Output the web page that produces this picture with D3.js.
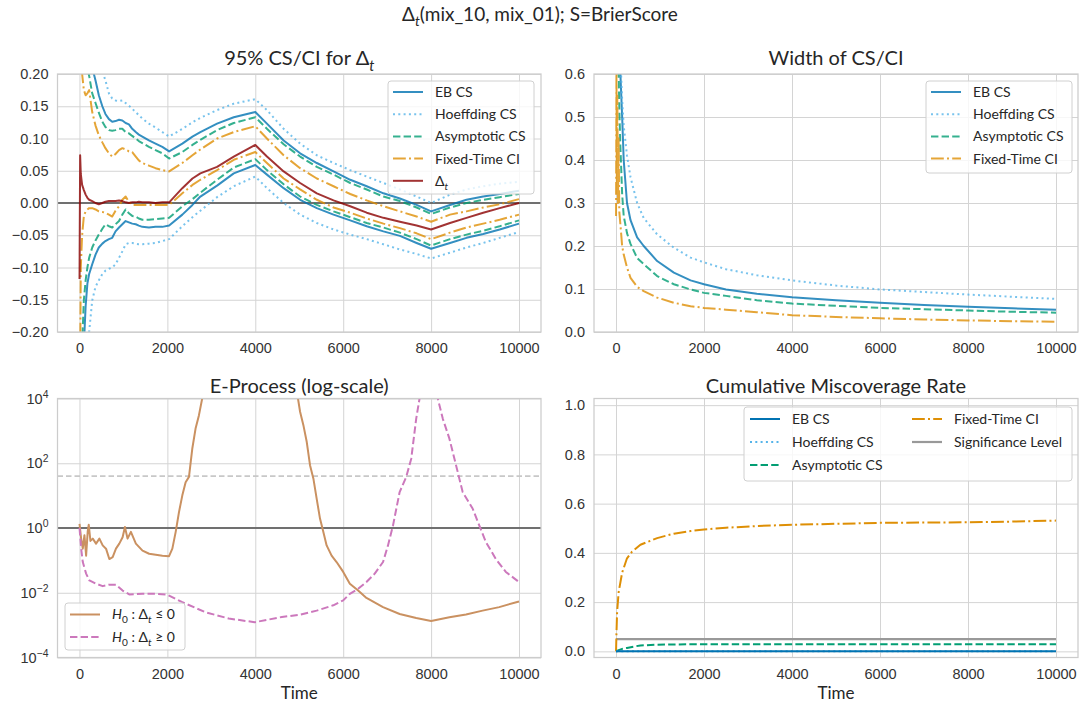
<!DOCTYPE html>
<html>
<head>
<meta charset="utf-8">
<script src="https://cdn.jsdelivr.net/npm/d3@7/dist/d3.min.js"></script>
<style>
html,body{margin:0;padding:0;background:#fff;}
svg{display:block;font-family:Lato,"Open Sans","DejaVu Sans",sans-serif;}
.grid .tick line{stroke:#d4d4d4;stroke-width:1;}
.grid .tick text{fill:#333;font-size:14.5px;}
.grid .domain{display:none;}
</style>
</head>
<body>
<svg id="chart" width="1081" height="707"></svg>
<script>
// ---------------- DATA ----------------
const xTickValues = [0, 2000, 4000, 6000, 8000, 10000];
const csYTicks = [-0.20, -0.15, -0.10, -0.05, 0.00, 0.05, 0.10, 0.15, 0.20];
const widthYTicks = [0.0, 0.1, 0.2, 0.3, 0.4, 0.5, 0.6];
const eprocYTicks = [1e-4, 1e-2, 1e0, 1e2, 1e4];
const missYTicks = [0.0, 0.2, 0.4, 0.6, 0.8, 1.0];

// Panel 1: 95% CS/CI for Delta_t
const timeCS = [1, 15, 30, 60, 100, 140, 180, 220, 290, 365, 440, 520, 590, 670, 745, 820, 900, 975, 1050, 1125, 1200, 1280, 1350, 1430, 1580, 1730, 1885, 2040, 2340, 2570, 2750, 3130, 3510, 4000, 4265, 4645, 5020, 5400, 5780, 6160, 6535, 6915, 7290, 7670, 8000, 8430, 8805, 9185, 9560, 10000];
const deltaT = [-0.118, 0.074, 0.045, 0.028, 0.02, 0.013, 0.008, 0.005, 0.003, 0.0, -0.002, 0.0, 0.002, 0.003, 0.003, 0.003, 0.004, 0.003, 0.001, 0.0, 0.001, 0.001, 0.002, 0.001, 0.001, 0.0, 0.001, 0.001, 0.023, 0.038, 0.046, 0.056, 0.072, 0.090, 0.072, 0.049, 0.031, 0.015, 0.004, -0.005, -0.015, -0.023, -0.029, -0.035, -0.041, -0.031, -0.023, -0.015, -0.008, 0.0];
const ebUpper = [0.6, 0.5, 0.45, 0.38, 0.32, 0.28, 0.25, 0.23, 0.21, 0.19, 0.167, 0.15, 0.138, 0.13, 0.126, 0.127, 0.129, 0.128, 0.124, 0.122, 0.115, 0.11, 0.106, 0.103, 0.097, 0.092, 0.087, 0.08, 0.092, 0.103, 0.110, 0.123, 0.133, 0.141, 0.123, 0.097, 0.077, 0.062, 0.049, 0.036, 0.026, 0.015, 0.007, -0.003, -0.013, -0.003, 0.005, 0.010, 0.014, 0.019];
const ebLower = [-0.6, -0.5, -0.4, -0.32, -0.22, -0.16, -0.125, -0.11, -0.095, -0.08, -0.069, -0.063, -0.059, -0.056, -0.054, -0.044, -0.038, -0.033, -0.028, -0.03, -0.032, -0.033, -0.035, -0.037, -0.038, -0.037, -0.037, -0.035, -0.018, -0.003, 0.010, 0.027, 0.046, 0.059, 0.044, 0.023, 0.005, -0.008, -0.018, -0.027, -0.036, -0.044, -0.051, -0.062, -0.071, -0.062, -0.054, -0.048, -0.041, -0.032];
const hoefUpper = [0.8, 0.7, 0.6, 0.5, 0.42, 0.36, 0.32, 0.29, 0.26, 0.24, 0.22, 0.205, 0.19, 0.17, 0.162, 0.159, 0.158, 0.159, 0.155, 0.151, 0.146, 0.141, 0.136, 0.131, 0.123, 0.117, 0.110, 0.103, 0.115, 0.125, 0.132, 0.144, 0.154, 0.161, 0.144, 0.115, 0.092, 0.074, 0.062, 0.051, 0.041, 0.031, 0.021, 0.010, 0.0, 0.013, 0.021, 0.026, 0.030, 0.033];
const hoefLower = [-0.8, -0.7, -0.6, -0.45, -0.35, -0.29, -0.24, -0.2, -0.151, -0.13, -0.12, -0.11, -0.105, -0.102, -0.1, -0.095, -0.085, -0.075, -0.064, -0.062, -0.062, -0.063, -0.064, -0.064, -0.063, -0.062, -0.059, -0.056, -0.036, -0.022, -0.012, 0.009, 0.026, 0.041, 0.023, 0.0, -0.018, -0.031, -0.041, -0.049, -0.056, -0.064, -0.072, -0.079, -0.086, -0.077, -0.069, -0.062, -0.054, -0.045];
const asymUpper = [0.5, 0.42, 0.36, 0.3, 0.26, 0.23, 0.21, 0.197, 0.17, 0.155, 0.14, 0.126, 0.118, 0.113, 0.112, 0.113, 0.115, 0.115, 0.11, 0.108, 0.104, 0.1, 0.096, 0.093, 0.087, 0.082, 0.077, 0.069, 0.079, 0.09, 0.098, 0.113, 0.124, 0.133, 0.115, 0.091, 0.072, 0.056, 0.044, 0.031, 0.021, 0.010, 0.003, -0.007, -0.017, -0.007, 0.0, 0.005, 0.009, 0.014];
const asymLower = [-0.5, -0.4, -0.3, -0.22, -0.15, -0.12, -0.1, -0.085, -0.069, -0.058, -0.049, -0.04, -0.033, -0.036, -0.038, -0.033, -0.028, -0.018, -0.01, -0.016, -0.02, -0.021, -0.024, -0.026, -0.026, -0.025, -0.024, -0.023, -0.005, 0.006, 0.016, 0.036, 0.055, 0.068, 0.051, 0.029, 0.01, -0.003, -0.013, -0.022, -0.031, -0.038, -0.046, -0.056, -0.066, -0.056, -0.049, -0.043, -0.036, -0.027];
const fixedUpper = [0.6, 0.35, 0.25, 0.2, 0.175, 0.167, 0.17, 0.175, 0.141, 0.12, 0.105, 0.094, 0.085, 0.077, 0.072, 0.076, 0.082, 0.085, 0.083, 0.08, 0.079, 0.072, 0.066, 0.062, 0.058, 0.054, 0.051, 0.049, 0.062, 0.074, 0.083, 0.1, 0.11, 0.119, 0.1, 0.074, 0.054, 0.038, 0.026, 0.014, 0.004, -0.005, -0.013, -0.021, -0.029, -0.018, -0.013, -0.007, -0.002, 0.006];
const fixedLower = [-0.6, -0.25, -0.1, -0.05, -0.02, -0.013, -0.01, -0.008, -0.008, -0.01, -0.013, -0.014, -0.015, -0.018, -0.021, -0.012, -0.005, 0.005, 0.01, 0.002, -0.003, -0.003, -0.003, -0.003, -0.003, -0.003, -0.003, -0.003, 0.015, 0.028, 0.036, 0.051, 0.067, 0.079, 0.062, 0.038, 0.021, 0.005, -0.007, -0.015, -0.024, -0.032, -0.039, -0.047, -0.056, -0.046, -0.038, -0.032, -0.026, -0.018];

// Panel 2: Width of CS/CI
const widthTime = [1, 20, 40, 60, 80, 100, 140, 175, 250, 330, 480, 630, 935, 1315, 1695, 2000, 2500, 3200, 4000, 5000, 6000, 7000, 8000, 9000, 10000];
const ebWidth = [2.0, 1.2, 0.9, 0.75, 0.66, 0.6, 0.5, 0.4, 0.3, 0.26, 0.22, 0.2, 0.165, 0.138, 0.12, 0.111, 0.099, 0.089, 0.081, 0.074, 0.068, 0.063, 0.059, 0.055, 0.052];
const hoefWidth = [3.0, 1.5, 1.1, 0.9, 0.78, 0.64, 0.54, 0.48, 0.41, 0.36, 0.30, 0.265, 0.227, 0.196, 0.173, 0.162, 0.146, 0.132, 0.12, 0.108, 0.099, 0.093, 0.087, 0.082, 0.077];
const asymWidth = [1.2, 0.85, 0.7, 0.6, 0.5, 0.43, 0.32, 0.27, 0.23, 0.205, 0.172, 0.158, 0.13, 0.111, 0.099, 0.091, 0.084, 0.074, 0.066, 0.061, 0.056, 0.053, 0.05, 0.047, 0.045];
const fixedWidthTime = [1, 10, 20, 30, 45, 60, 75, 100, 140, 175, 250, 330, 480, 630, 935, 1315, 1695, 2000, 2500, 3200, 4000, 5000, 6000, 7000, 8000, 9000, 10000];
const fixedWidth = [0.27, 0.62, 0.33, 0.55, 0.3, 0.45, 0.28, 0.25, 0.2, 0.18, 0.15, 0.126, 0.105, 0.095, 0.08, 0.068, 0.06, 0.056, 0.052, 0.046, 0.039, 0.035, 0.032, 0.029, 0.027, 0.025, 0.024];

// Panel 3: E-Process (log-scale)
const eTimeLE = [1, 38, 75, 113, 151, 188, 211, 249, 302, 377, 453, 528, 604, 679, 755, 830, 906, 981, 1034, 1094, 1170, 1283, 1434, 1585, 1736, 1887, 2038, 2113, 2189, 2264, 2340, 2415, 2491, 2566, 2641, 2717, 2792, 3000, 3500, 4000, 4500, 4950, 5019, 5094, 5170, 5245, 5321, 5396, 5472, 5547, 5623, 5736, 5849, 6000, 6151, 6340, 6529, 6906, 7284, 7661, 8000, 8416, 8794, 9171, 9549, 10000];
const eValLE = [1.35, 0.47, 0.23, 0.6, 0.14, 0.8, 1.26, 0.4, 0.47, 0.33, 0.47, 0.29, 0.23, 0.11, 0.126, 0.23, 0.33, 0.52, 1.07, 0.47, 0.76, 0.33, 0.20, 0.16, 0.15, 0.14, 0.135, 0.23, 0.76, 3.1, 10.2, 26, 38, 280, 1175, 3000, 10000, 1e5, 3e6, 3e7, 1e6, 1.5e4, 3900, 1500, 460, 87, 34, 8.1, 1.95, 0.76, 0.29, 0.14, 0.089, 0.044, 0.019, 0.0117, 0.0069, 0.0036, 0.0022, 0.00166, 0.00135, 0.00174, 0.00214, 0.0028, 0.0036, 0.0054];
const eTimeGE = [1, 38, 75, 151, 226, 377, 528, 679, 830, 981, 1132, 1434, 1736, 2000, 2340, 2868, 3396, 3985, 4604, 5020, 5396, 5774, 6000, 6151, 6340, 6529, 6717, 6906, 7019, 7133, 7284, 7434, 7548, 7661, 7737, 7900, 8000, 8100, 8152, 8265, 8416, 8567, 8718, 8944, 9095, 9246, 9473, 9700, 10000];
const eValGE = [1.0, 0.23, 0.089, 0.039, 0.024, 0.019, 0.016, 0.0178, 0.0178, 0.0117, 0.0089, 0.0093, 0.0093, 0.0087, 0.0051, 0.0025, 0.0016, 0.00123, 0.00178, 0.0021, 0.0028, 0.0041, 0.0058, 0.0093, 0.0132, 0.0214, 0.039, 0.089, 0.29, 1.2, 12.9, 38, 138, 2400, 1e4, 1e5, 2e5, 5e4, 1e4, 2400, 575, 87, 12.9, 4, 1.2, 0.37, 0.11, 0.044, 0.0214];
const eNullLevel = 1;
const eThreshold = 40;

// Panel 4: Cumulative Miscoverage Rate
const missTime = [1, 10, 25, 60, 140, 250, 365, 555, 935, 1315, 1700, 2000, 2500, 3200, 4000, 5000, 6000, 7000, 8000, 9000, 10000];
const fixedMiss = [0, 0.07, 0.16, 0.24, 0.32, 0.378, 0.405, 0.433, 0.46, 0.478, 0.489, 0.495, 0.502, 0.509, 0.514, 0.518, 0.522, 0.523, 0.524, 0.527, 0.531];
const asymMiss = [0, 0.0, 0.002, 0.005, 0.01, 0.014, 0.018, 0.024, 0.027, 0.028, 0.029, 0.029, 0.029, 0.029, 0.029, 0.029, 0.029, 0.029, 0.029, 0.029, 0.029];
const ebMiss = [0, 0, 0, 0, 0, 0, 0, 0, 0, 0, 0, 0, 0, 0, 0, 0, 0, 0, 0, 0, 0];
const hoefMiss = [0, 0, 0, 0, 0, 0, 0, 0, 0, 0, 0, 0, 0, 0, 0, 0, 0, 0, 0, 0, 0];
const sigLevel = [0.05, 0.05, 0.05, 0.05, 0.05, 0.05, 0.05, 0.05, 0.05, 0.05, 0.05, 0.05, 0.05, 0.05, 0.05, 0.05, 0.05, 0.05, 0.05, 0.05, 0.05];

// ---------------- STYLE ----------------
const COL = {eb:"#0173b2", hoef:"#56b4e9", asym:"#029e73", fixed:"#de8f05", delta:"#8b0000", le:"#ca9161", ge:"#cc78bc", sig:"#999999"};
const DASH = {solid:null, dotted:"2,3.3", dashed:"7.4,3.2", dashdot:"12.8,3.2,2,3.2"};
const TXT = "#262626";
const FS = 14;

const svg = d3.select("#chart");
svg.append("rect").attr("width",1081).attr("height",707).attr("fill","#fff");
const defs = svg.append("defs");

function rich(sel, parts, fs){
  let shift = 0;
  parts.forEach(p => {
    const ts = sel.append("tspan").text(p.t);
    const target = p.sub ? 0.28*fs : (p.sup ? -0.42*fs : 0);
    if (target !== shift) { ts.attr("dy", target - shift); shift = target; }
    if (p.sub || p.sup) ts.attr("font-size", fs*0.72);
    if (p.it) ts.attr("font-style","italic");
  });
}

function setupPanel(id, p, y, yTicks, yFmt){
  const x = d3.scaleLinear().domain([-500, 10500]).range([p.x0, p.x1]);
  y.range([p.y1, p.y0]);
  defs.append("clipPath").attr("id","clip-"+id).append("rect")
    .attr("x",p.x0).attr("y",p.y0).attr("width",p.x1-p.x0).attr("height",p.y1-p.y0);
  const g = svg.append("g");
  g.append("g").attr("class","grid").attr("transform",`translate(0,${p.y1})`)
    .call(d3.axisBottom(x).tickValues(xTickValues).tickSize(-(p.y1-p.y0)).tickPadding(11).tickFormat(d3.format("d")));
  const gy = g.append("g").attr("class","grid").attr("transform",`translate(${p.x0},0)`)
    .call(d3.axisLeft(y).tickValues(yTicks).tickSize(-(p.x1-p.x0)).tickPadding(9).tickFormat(yFmt));
  const plot = g.append("g").attr("clip-path",`url(#clip-${id})`);
  g.append("rect").attr("x",p.x0).attr("y",p.y0).attr("width",p.x1-p.x0).attr("height",p.y1-p.y0)
    .attr("fill","none").attr("stroke","#cccccc").attr("stroke-width",1.25);
  return {x, y, plot, gy, p, g};
}

function drawLine(ctx, times, vals, color, dash, opacity, width){
  const pts = times.map((t,i)=>[t, vals[i]]);
  const line = d3.line().x(d=>ctx.x(d[0])).y(d=>ctx.y(d[1]));
  ctx.plot.append("path").datum(pts).attr("d", line)
    .attr("fill","none").attr("stroke",color).attr("stroke-width",width||2)
    .attr("stroke-opacity", opacity==null?1:opacity)
    .attr("stroke-dasharray", dash).attr("stroke-linejoin","round");
}

function hLine(ctx, v, color, width, dash){
  ctx.plot.append("line").attr("x1",ctx.p.x0).attr("x2",ctx.p.x1)
    .attr("y1",ctx.y(v)).attr("y2",ctx.y(v))
    .attr("stroke",color).attr("stroke-width",width).attr("stroke-dasharray",dash||null);
}

function legend(box, items){
  const g = svg.append("g");
  g.append("rect").attr("x",box.x).attr("y",box.y).attr("width",box.w).attr("height",box.h)
    .attr("rx",3).attr("fill","#fff").attr("fill-opacity",0.8).attr("stroke","#d0d0d0").attr("stroke-width",1);
  items.forEach(it => {
    g.append("line").attr("x1",it.hx).attr("x2",it.hx+30).attr("y1",it.y).attr("y2",it.y)
      .attr("stroke",it.color).attr("stroke-width",it.w||2).attr("stroke-opacity",it.op==null?1:it.op)
      .attr("stroke-dasharray",it.dash);
    const t = g.append("text").attr("x",it.hx+42).attr("y",it.y).attr("dy","0.35em")
      .attr("font-size",FS).attr("fill",TXT);
    rich(t, it.label, FS);
  });
}

function title(x, y, parts, fs){
  const t = svg.append("text").attr("x",x).attr("y",y).attr("dy","0.35em")
    .attr("text-anchor","middle").attr("font-size",fs).attr("fill",TXT);
  rich(t, parts, fs);
}

const P = {
  tl:{x0:57.5,x1:541,y0:74,y1:332},
  tr:{x0:594,x1:1078,y0:74,y1:332},
  bl:{x0:57.5,x1:541,y0:398.5,y1:657.5},
  br:{x0:594,x1:1078,y0:398.5,y1:657.5}
};

// ---- Panel 1
const c1 = setupPanel("tl", P.tl, d3.scaleLinear().domain([-0.2,0.2]), csYTicks, d3.format(".2f"));
hLine(c1, 0, "#707070", 2);
const OP = 0.8;
drawLine(c1, timeCS, hoefUpper, COL.hoef, DASH.dotted, OP);
drawLine(c1, timeCS, hoefLower, COL.hoef, DASH.dotted, OP);
drawLine(c1, timeCS, ebUpper, COL.eb, null, OP);
drawLine(c1, timeCS, ebLower, COL.eb, null, OP);
drawLine(c1, timeCS, asymUpper, COL.asym, DASH.dashed, OP);
drawLine(c1, timeCS, asymLower, COL.asym, DASH.dashed, OP);
drawLine(c1, timeCS, fixedUpper, COL.fixed, DASH.dashdot, OP);
drawLine(c1, timeCS, fixedLower, COL.fixed, DASH.dashdot, OP);
drawLine(c1, timeCS, deltaT, COL.delta, null, OP);

// ---- Panel 2
const c2 = setupPanel("tr", P.tr, d3.scaleLinear().domain([0,0.6]), widthYTicks, d3.format(".1f"));
drawLine(c2, widthTime, ebWidth, COL.eb, null, OP);
drawLine(c2, widthTime, hoefWidth, COL.hoef, DASH.dotted, OP);
drawLine(c2, widthTime, asymWidth, COL.asym, DASH.dashed, OP);
drawLine(c2, fixedWidthTime, fixedWidth, COL.fixed, DASH.dashdot, OP);

// ---- Panel 3
const c3 = setupPanel("bl", P.bl, d3.scaleLog().domain([1e-4,1e4]), eprocYTicks, ()=> "");
c3.gy.selectAll(".tick text").each(function(d){
  const e = Math.round(Math.log10(d));
  const s = (e<0 ? "\u2212" : "") + Math.abs(e);
  const t = d3.select(this); t.text(null);
  rich(t, [{t:"10"},{t:s, sup:true}], 14.5);
});
hLine(c3, eNullLevel, "#707070", 2);
hLine(c3, eThreshold, "#c8c8c8", 1.6, "5.5,3");
drawLine(c3, eTimeLE, eValLE, COL.le, null, 1);
drawLine(c3, eTimeGE, eValGE, COL.ge, DASH.dashed, 1);

// ---- Panel 4
const c4 = setupPanel("br", P.br, d3.scaleLinear().domain([-0.025,1.027]), missYTicks, d3.format(".1f"));
drawLine(c4, missTime, sigLevel, COL.sig, null, 1, 2.2);
drawLine(c4, missTime, fixedMiss, COL.fixed, DASH.dashdot, 1);
drawLine(c4, missTime, asymMiss, COL.asym, DASH.dashed, 1);
drawLine(c4, missTime, hoefMiss, COL.hoef, DASH.dotted, 1);
drawLine(c4, missTime, ebMiss, COL.eb, null, 1);

// ---- Titles
const dT = [{t:"\u0394"},{t:"t", sub:true, it:true}];
title(540, 14, dT.concat([{t:"(mix_10, mix_01); S=BrierScore"}]), 19);
title((P.tl.x0+P.tl.x1)/2, 58, [{t:"95% CS/CI for "}].concat(dT), 20);
title((P.tr.x0+P.tr.x1)/2, 58, [{t:"Width of CS/CI"}], 20);
title((P.bl.x0+P.bl.x1)/2, 386, [{t:"E-Process (log-scale)"}], 20);
title((P.br.x0+P.br.x1)/2, 386, [{t:"Cumulative Miscoverage Rate"}], 20);
title((P.bl.x0+P.bl.x1)/2, 693, [{t:"Time"}], 17);
title((P.br.x0+P.br.x1)/2, 693, [{t:"Time"}], 17);

// ---- Legends
const rowsTL = [92, 114.2, 136.4, 158.6, 180.8];
legend({x:388,y:81,w:146,h:113}, [
  {hx:393, y:rowsTL[0], color:COL.eb, dash:null, op:OP, label:[{t:"EB CS"}]},
  {hx:393, y:rowsTL[1], color:COL.hoef, dash:DASH.dotted, op:OP, label:[{t:"Hoeffding CS"}]},
  {hx:393, y:rowsTL[2], color:COL.asym, dash:DASH.dashed, op:OP, label:[{t:"Asymptotic CS"}]},
  {hx:393, y:rowsTL[3], color:COL.fixed, dash:DASH.dashdot, op:OP, label:[{t:"Fixed-Time CI"}]},
  {hx:393, y:rowsTL[4], color:COL.delta, dash:null, op:OP, label:dT}
]);
legend({x:926,y:81,w:146,h:92}, [
  {hx:931, y:rowsTL[0], color:COL.eb, dash:null, op:OP, label:[{t:"EB CS"}]},
  {hx:931, y:rowsTL[1], color:COL.hoef, dash:DASH.dotted, op:OP, label:[{t:"Hoeffding CS"}]},
  {hx:931, y:rowsTL[2], color:COL.asym, dash:DASH.dashed, op:OP, label:[{t:"Asymptotic CS"}]},
  {hx:931, y:rowsTL[3], color:COL.fixed, dash:DASH.dashdot, op:OP, label:[{t:"Fixed-Time CI"}]}
]);
legend({x:65,y:603,w:120,h:47}, [
  {hx:70, y:614.5, color:COL.le, dash:null, label:[{t:"H", it:true},{t:"0", sub:true},{t:" : \u0394"},{t:"t", sub:true, it:true},{t:" \u2264 0"}]},
  {hx:70, y:637, color:COL.ge, dash:DASH.dashed, label:[{t:"H", it:true},{t:"0", sub:true},{t:" : \u0394"},{t:"t", sub:true, it:true},{t:" \u2265 0"}]}
]);
legend({x:744,y:407,w:328,h:74}, [
  {hx:750, y:419, color:COL.eb, dash:null, label:[{t:"EB CS"}]},
  {hx:750, y:442, color:COL.hoef, dash:DASH.dotted, label:[{t:"Hoeffding CS"}]},
  {hx:750, y:465, color:COL.asym, dash:DASH.dashed, label:[{t:"Asymptotic CS"}]},
  {hx:912, y:419, color:COL.fixed, dash:DASH.dashdot, label:[{t:"Fixed-Time CI"}]},
  {hx:912, y:442, color:COL.sig, dash:null, w:2.2, label:[{t:"Significance Level"}]}
]);
</script>
</body>
</html>
